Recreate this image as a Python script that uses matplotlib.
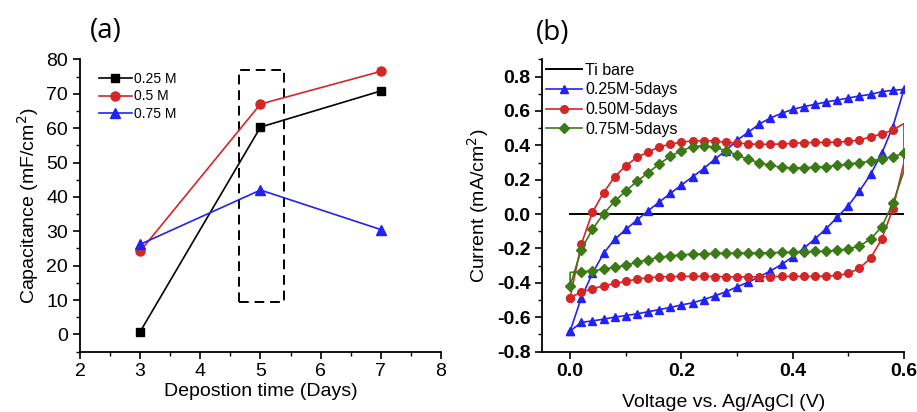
import numpy as np
import matplotlib
matplotlib.use("Agg")
import matplotlib.pyplot as plt
from matplotlib.patches import Rectangle
from matplotlib.ticker import MultipleLocator, FuncFormatter

plt.rcParams['font.family'] = ['Liberation Sans', 'DejaVu Sans']

# ---------------- Panel (a) data ----------------
days = [3, 5, 7]
cap_025 = [0.8, 60.3, 70.8]
cap_050 = [24.2, 67.0, 76.5]
cap_075 = [26.2, 42.0, 30.5]
series_a_labels = ["0.25 M", "0.5 M", "0.75 M"]
box_days = [4.64, 5.39]
box_cap = [9.4, 77.0]

# ---------------- Panel (b) data ----------------
v_fwd = [round(0.02 * i, 2) for i in range(31)]          # 0.00 -> 0.60
v_rev = [round(0.60 - 0.02 * i, 2) for i in range(31)]   # 0.60 -> 0.00

i025_fwd = [-0.68, -0.487, -0.345, -0.229, -0.147, -0.089, -0.035, 0.019, 0.07, 0.12,
            0.169, 0.217, 0.264, 0.32, 0.369, 0.43, 0.475, 0.524, 0.559, 0.586,
            0.609, 0.625, 0.638, 0.652, 0.663, 0.675, 0.687, 0.696, 0.712, 0.72, 0.725]
i025_rev = [0.725, 0.508, 0.353, 0.231, 0.134, 0.05, -0.019, -0.085, -0.144, -0.198,
            -0.248, -0.293, -0.33, -0.365, -0.396, -0.423, -0.452, -0.475, -0.497, -0.516,
            -0.528, -0.543, -0.555, -0.568, -0.58, -0.59, -0.599, -0.611, -0.621, -0.63, -0.68]

i050_fwd = [-0.485, -0.176, 0.01, 0.124, 0.217, 0.281, 0.33, 0.361, 0.39, 0.407,
            0.419, 0.425, 0.427, 0.425, 0.417, 0.413, 0.409, 0.405, 0.407, 0.407,
            0.411, 0.415, 0.417, 0.417, 0.419, 0.423, 0.43, 0.45, 0.465, 0.489, 0.527]
i050_rev = [0.30, 0.03, -0.145, -0.256, -0.315, -0.345, -0.357, -0.36, -0.362, -0.362,
            -0.362, -0.362, -0.363, -0.365, -0.365, -0.365, -0.365, -0.363, -0.362, -0.362,
            -0.362, -0.363, -0.365, -0.37, -0.378, -0.391, -0.403, -0.417, -0.434, -0.454, -0.485]

i075_fwd = [-0.417, -0.206, -0.089, 0.002, 0.074, 0.134, 0.19, 0.24, 0.291, 0.336,
            0.369, 0.392, 0.398, 0.388, 0.369, 0.343, 0.318, 0.299, 0.283, 0.272,
            0.268, 0.27, 0.272, 0.275, 0.283, 0.291, 0.299, 0.308, 0.322, 0.334, 0.353]
i075_rev = [0.25, 0.062, -0.074, -0.145, -0.186, -0.202, -0.211, -0.215, -0.217, -0.219,
            -0.223, -0.223, -0.225, -0.225, -0.227, -0.227, -0.227, -0.229, -0.231, -0.233,
            -0.237, -0.242, -0.252, -0.264, -0.281, -0.297, -0.31, -0.32, -0.33, -0.335, -0.339]

ti_v = [0.0, 0.6]
ti_i = [0.0, 0.0]
series_b_labels = ["Ti bare", "0.25M-5days", "0.50M-5days", "0.75M-5days"]

RED = '#d42626'
BLUE = '#2222f2'
GREEN = '#3b7a16'

fig = plt.figure(figsize=(9.17, 4.12), dpi=100)

# ---------------- Panel (a) ----------------
axa = fig.add_axes([0.0872, 0.1464, 0.3937, 0.7096])
axa.plot(days, cap_025, '-s', color='black', lw=1.2, ms=6, label=series_a_labels[0])
axa.plot(days, cap_050, '-o', color=RED, lw=1.2, ms=6.5, label=series_a_labels[1])
axa.plot(days, cap_075, '-^', color=BLUE, lw=1.2, ms=6.5, label=series_a_labels[2])
axa.add_patch(Rectangle((box_days[0], box_cap[0]), box_days[1] - box_days[0],
                        box_cap[1] - box_cap[0], fill=False, ls=(0, (5, 3)),
                        lw=1.4, ec='black'))
axa.set_xlim(2, 8)
axa.set_ylim(-5, 80)
axa.xaxis.set_major_locator(MultipleLocator(1))
axa.xaxis.set_minor_locator(MultipleLocator(0.5))
axa.yaxis.set_major_locator(MultipleLocator(10))
axa.yaxis.set_minor_locator(MultipleLocator(5))
for s in ['top', 'right']:
    axa.spines[s].set_visible(False)
for s in ['left', 'bottom']:
    axa.spines[s].set_linewidth(1.3)
axa.tick_params(which='major', direction='out', length=5, width=1.2, labelsize=14)
axa.tick_params(which='minor', direction='out', length=3, width=1.0)
axa.set_xlabel("Depostion time (Days)", fontsize=14, labelpad=2)
axa.set_ylabel("Capacitance (mF/cm$^2$)", fontsize=14, labelpad=4)
axa.legend(loc='upper left', frameon=False, fontsize=10, handlelength=2.4,
           handletextpad=0.15, labelspacing=0.25, borderaxespad=0.3,
           bbox_to_anchor=(0.025, 0.99))
fig.text(0.115, 0.925, "(a)", fontsize=20, family=['Open Sans', 'DejaVu Sans'],
         ha='center', va='center')

# ---------------- Panel (b) ----------------
axb = fig.add_axes([0.5914, 0.1464, 0.3944, 0.7096])
axb.plot(ti_v, ti_i, '-', color='black', lw=1.4, label=series_b_labels[0])
axb.plot(v_fwd + v_rev, i025_fwd + i025_rev, '-^', color=BLUE, lw=1.2, ms=5.5,
         markevery=list(range(31)) + list(range(32, 62)), label=series_b_labels[1])
axb.plot(v_fwd + v_rev, i050_fwd + i050_rev, '-o', color=RED, lw=1.2, ms=5.5,
         markevery=list(range(30)) + list(range(32, 62)), label=series_b_labels[2])
axb.plot(v_fwd + v_rev + [v_fwd[0]], i075_fwd + i075_rev + [i075_fwd[0]], '-D',
         color=GREEN, lw=1.2, ms=4.8, markevery=list(range(31)) + list(range(32, 61)),
         label=series_b_labels[3])
axb.set_xlim(-0.05, 0.6)
axb.set_ylim(-0.8, 0.9)
axb.xaxis.set_major_locator(MultipleLocator(0.2))
axb.xaxis.set_minor_locator(MultipleLocator(0.1))
axb.set_yticks([round(v, 1) for v in np.arange(-0.8, 0.81, 0.2)])
axb.yaxis.set_minor_locator(MultipleLocator(0.1))
fmt = FuncFormatter(lambda v, p: "%.1f" % (0.0 if abs(v) < 1e-9 else v))
axb.yaxis.set_major_formatter(fmt)
axb.xaxis.set_major_formatter(fmt)
for s in ['top', 'right']:
    axb.spines[s].set_visible(False)
for s in ['left', 'bottom']:
    axb.spines[s].set_linewidth(1.3)
axb.tick_params(which='major', direction='out', length=5, width=1.2, labelsize=14)
axb.tick_params(which='minor', direction='out', length=3, width=1.0)
for lab in axb.get_xticklabels() + axb.get_yticklabels():
    lab.set_fontweight('bold')
axb.set_xlabel("Voltage vs. Ag/AgCl (V)", fontsize=14, labelpad=10)
axb.set_ylabel("Current (mA/cm$^2$)", fontsize=14, labelpad=4)
axb.legend(loc='upper left', frameon=False, fontsize=11.5, handlelength=2.3,
           handletextpad=0.2, labelspacing=0.3, borderaxespad=0.0, borderpad=0.2,
           bbox_to_anchor=(0.0, 1.0))
fig.text(0.603, 0.92, "(b)", fontsize=20, family=['Open Sans', 'DejaVu Sans'],
         ha='center', va='center')

fig.savefig("out.png", dpi=100)
